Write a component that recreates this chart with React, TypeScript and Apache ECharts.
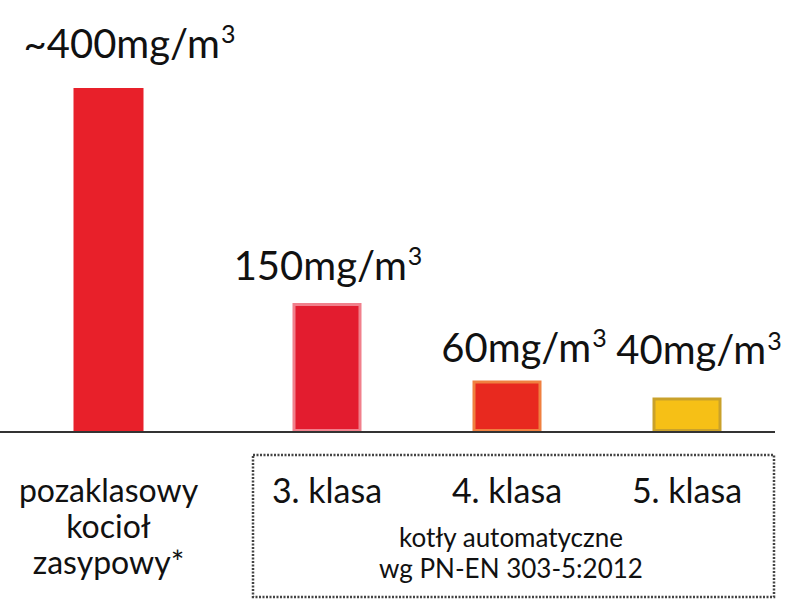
import React, { useEffect, useRef } from "react";
import * as echarts from "echarts";

// ---- data ----
const mainCategories = ["pozaklasowy\nkocioł\nzasypowy*"];
const mainValues = [400];
const mainPrefix = ["~"];

const autoCategories = ["3. klasa", "4. klasa", "5. klasa"];
const autoValues = [150, 60, 40];
const autoPrefix = ["", "", ""];

const unitText = "mg/m";
const groupCaption = "kotły automatyczne\nwg PN-EN 303-5:2012";

// ---- styles (kept apart from data) ----
const mainStyles = [{ color: "#e8202a", border: "#e8202a", shift: [21, -18] }];
const autoStyles = [
  { color: "#e31c2f", border: "#f1808c", shift: [1, -11] },
  { color: "#e8291f", border: "#f08040", shift: [17, -6] },
  { color: "#f6c016", border: "#c9a12b", shift: [12, -21] },
];

const FONT = "Lato, 'Open Sans', sans-serif";

function buildItems(values: number[], prefix: string[], styles: any[]) {
  return values.map((v, i) => ({
    value: v,
    itemStyle: {
      color: styles[i].color,
      borderColor: styles[i].border,
      borderWidth: 3,
    },
    label: {
      show: true,
      position: "top",
      distance: 5,
      offset: styles[i].shift,
      formatter: `${prefix[i]}${v}${unitText}{sup|3}`,
    },
  }));
}

const labelStyle = {
  fontFamily: FONT,
  fontSize: 40,
  lineHeight: 45,
  color: "#111",
  rich: {
    sup: {
      fontFamily: FONT,
      fontSize: 25,
      color: "#111",
      padding: [0, 0, 19, 1],
    },
  },
};

export default function App() {
  const ref = useRef<HTMLDivElement>(null);
  useEffect(() => {
    if (!ref.current) return;
    const chart = echarts.init(ref.current, null, { renderer: "svg" });
    chart.setOption({
      animation: false,
      backgroundColor: "#ffffff",
      grid: [
        { left: 0, width: 217, top: 88, bottom: 172 },
        { left: 237, width: 540, top: 88, bottom: 172 },
      ],
      xAxis: [
        {
          type: "category",
          gridIndex: 0,
          data: mainCategories,
          axisLine: { show: false },
          axisTick: { show: false },
          axisLabel: {
            fontFamily: FONT,
            fontSize: 32,
            lineHeight: 36,
            color: "#111",
            margin: 39,
            interval: 0,
          },
        },
        {
          type: "category",
          gridIndex: 1,
          data: autoCategories,
          axisLine: { show: false },
          axisTick: { show: false },
          axisLabel: {
            fontFamily: FONT,
            fontSize: 34,
            lineHeight: 36,
            color: "#111",
            margin: 39,
            interval: 0,
          },
        },
      ],
      yAxis: [
        { type: "value", gridIndex: 0, min: 0, max: 400, show: false },
        { type: "value", gridIndex: 1, min: 0, max: 400, show: false },
      ],
      series: [
        {
          type: "bar",
          xAxisIndex: 0,
          yAxisIndex: 0,
          barWidth: 70,
          label: labelStyle,
          data: buildItems(mainValues, mainPrefix, mainStyles),
        },
        {
          type: "bar",
          xAxisIndex: 1,
          yAxisIndex: 1,
          barWidth: 69,
          label: labelStyle,
          data: buildItems(autoValues, autoPrefix, autoStyles),
        },
      ],
      graphic: [
        {
          type: "line",
          shape: { x1: 0, y1: 432, x2: 775, y2: 432 },
          style: { stroke: "#333", lineWidth: 2 },
          z: 10,
        },
        {
          type: "rect",
          shape: { x: 253, y: 455, width: 521, height: 142 },
          style: {
            fill: "none",
            stroke: "#444",
            lineWidth: 2.5,
            lineDash: [2, 1.5],
          },
        },
        {
          type: "text",
          x: 511,
          y: 552,
          style: {
            text: groupCaption,
            fontFamily: FONT,
            fontSize: 26,
            lineHeight: 31,
            fill: "#111",
            align: "center",
            verticalAlign: "middle",
          },
        },
      ],
    });
    return () => chart.dispose();
  }, []);
  return (
    <div
      ref={ref}
      style={{ position: "fixed", left: 0, top: 0, width: 787, height: 604 }}
    />
  );
}
